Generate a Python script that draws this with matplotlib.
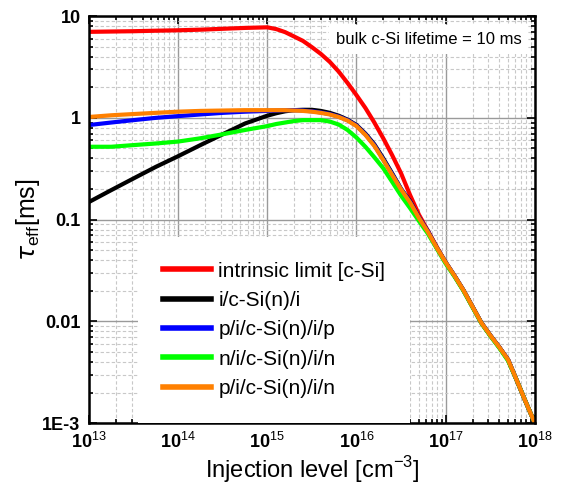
import numpy as np
import matplotlib
matplotlib.use("Agg")
import matplotlib.pyplot as plt
from matplotlib.ticker import LogLocator, FixedLocator, FixedFormatter, NullFormatter

plt.rcParams['font.family'] = ['Liberation Sans', 'DejaVu Sans']
plt.rcParams['mathtext.fontset'] = 'custom'
plt.rcParams['mathtext.rm'] = 'Liberation Sans'
plt.rcParams['mathtext.bf'] = 'Liberation Sans:bold'

# log10 of injection level [cm^-3]
log_n = [13, 13.25, 13.5, 13.75, 14, 14.25, 14.5, 14.75, 15, 15.1, 15.2, 15.3,
         15.4, 15.5, 15.6, 15.7, 15.8, 15.9, 16, 16.1, 16.2, 16.3, 16.4, 16.5,
         16.6, 16.7, 16.8, 16.9, 17, 17.1, 17.2, 17.3, 17.4, 17.5, 17.6, 17.7,
         17.8, 17.9, 18]

# effective lifetime [ms]
tau_intrinsic = [7.0, 7.05, 7.1, 7.18, 7.25, 7.35, 7.5, 7.65, 7.75, 7.45, 6.95, 6.3,
                 5.7, 4.95, 4.25, 3.55, 2.85, 2.2, 1.67, 1.25, 0.9, 0.63, 0.43, 0.285,
                 0.175, 0.112, 0.078, 0.054, 0.038, 0.028, 0.0202, 0.0140, 0.0097, 0.0073, 0.0056, 0.0042,
                 0.0026, 0.0016, 0.001]
tau_ii = [0.149, 0.195, 0.254, 0.33, 0.42, 0.54, 0.69, 0.88, 1.05, 1.11, 1.16, 1.19,
          1.2, 1.2, 1.17, 1.12, 1.05, 0.96, 0.85, 0.7, 0.55, 0.4, 0.285, 0.2,
          0.152, 0.105, 0.077, 0.053, 0.038, 0.028, 0.0202, 0.0140, 0.0097, 0.0073, 0.0056, 0.0042,
          0.0026, 0.0016, 0.001]
tau_pip = [0.85, 0.9, 0.95, 1.0, 1.04, 1.08, 1.12, 1.15, 1.17, 1.18, 1.19, 1.19,
           1.18, 1.16, 1.13, 1.09, 1.03, 0.95, 0.84, 0.69, 0.54, 0.39, 0.28, 0.2,
           0.15, 0.105, 0.077, 0.053, 0.038, 0.028, 0.0202, 0.0140, 0.0097, 0.0073, 0.0056, 0.0042,
           0.0026, 0.0016, 0.001]
tau_nin = [0.52, 0.52, 0.54, 0.56, 0.585, 0.63, 0.69, 0.76, 0.83, 0.87, 0.9, 0.93,
           0.95, 0.95, 0.95, 0.92, 0.86, 0.76, 0.64, 0.52, 0.41, 0.32, 0.235, 0.172,
           0.13, 0.097, 0.073, 0.052, 0.037, 0.0275, 0.0199, 0.0138, 0.0096, 0.0072, 0.0055, 0.0041,
           0.0026, 0.0016, 0.001]
tau_pin = [1.02, 1.06, 1.09, 1.12, 1.15, 1.17, 1.18, 1.19, 1.19, 1.19, 1.19, 1.18,
           1.17, 1.15, 1.12, 1.08, 1.02, 0.94, 0.83, 0.68, 0.53, 0.385, 0.275, 0.198,
           0.148, 0.104, 0.076, 0.053, 0.038, 0.028, 0.0202, 0.0140, 0.0097, 0.0073, 0.0056, 0.0042,
           0.0026, 0.0016, 0.001]

series = [
    ('intrinsic limit [c-Si]', tau_intrinsic, '#ff0000'),
    ('i/c-Si(n)/i', tau_ii, '#000000'),
    ('p/i/c-Si(n)/i/p', tau_pip, '#0000ff'),
    ('n/i/c-Si(n)/i/n', tau_nin, '#00ff00'),
    ('p/i/c-Si(n)/i/n', tau_pin, '#ff8000'),
]

fig = plt.figure(figsize=(5.63, 4.87), dpi=100)
ax = fig.add_axes([0.158, 0.131, 0.792, 0.836])

x = 10.0 ** np.array(log_n)
for label, vals, color in series:
    ax.plot(x, vals, color=color, lw=3, label=label, solid_joinstyle='round')

ax.set_xscale('log')
ax.set_yscale('log')
ax.set_xlim(1e13, 1e18)
ax.set_ylim(1e-3, 10)

# ticks
ax.set_xticks([1e13, 1e14, 1e15, 1e16, 1e17, 1e18])
ax.set_xticklabels([r'$\mathbf{10}^{%d}$' % e for e in range(13, 19)])
ax.xaxis.set_minor_locator(LogLocator(base=10, subs=np.arange(2, 10), numticks=20))
ax.xaxis.set_minor_formatter(NullFormatter())
ax.yaxis.set_major_locator(FixedLocator([1e-3, 1e-2, 1e-1, 1, 10]))
ax.yaxis.set_major_formatter(FixedFormatter(['1E-3', '0.01', '0.1', '1', '10']))
ax.yaxis.set_minor_locator(LogLocator(base=10, subs=np.arange(2, 10), numticks=20))
ax.yaxis.set_minor_formatter(NullFormatter())

ax.tick_params(which='both', direction='in', top=True, right=True, width=1.2)
ax.tick_params(which='major', length=6, labelsize=13, pad=6)
ax.tick_params(which='minor', length=3)
for lbl in ax.get_yticklabels():
    lbl.set_fontweight('bold')
for sp in ax.spines.values():
    sp.set_linewidth(1.8)

ax.grid(True, which='major', color='#9a9a9a', lw=1.0, ls='-')
ax.grid(True, which='minor', color='#c8c8c8', lw=0.8, ls=(0, (3, 2)))
ax.set_axisbelow(True)

ax.set_xlabel('Injection level [cm$^{-3}$]', fontsize=17, labelpad=2)
ax.set_ylabel(r'$\tau_{\rm eff}$[ms]', fontsize=18, labelpad=0)

leg = ax.legend(loc='lower left', bbox_to_anchor=(0.11, 0.0), fontsize=15,
                frameon=True, fancybox=False, edgecolor='none', framealpha=1,
                handlelength=2.3, handletextpad=0.35, labelspacing=0.5,
                borderpad=1.2, borderaxespad=0.0)
for h in leg.get_lines():
    h.set_linewidth(4)

ax.text(0.97, 0.96, 'bulk c-Si lifetime = 10 ms', transform=ax.transAxes,
        ha='right', va='top', fontsize=12,
        bbox=dict(facecolor='white', edgecolor='none', pad=5))

fig.savefig('out.png', dpi=100)
